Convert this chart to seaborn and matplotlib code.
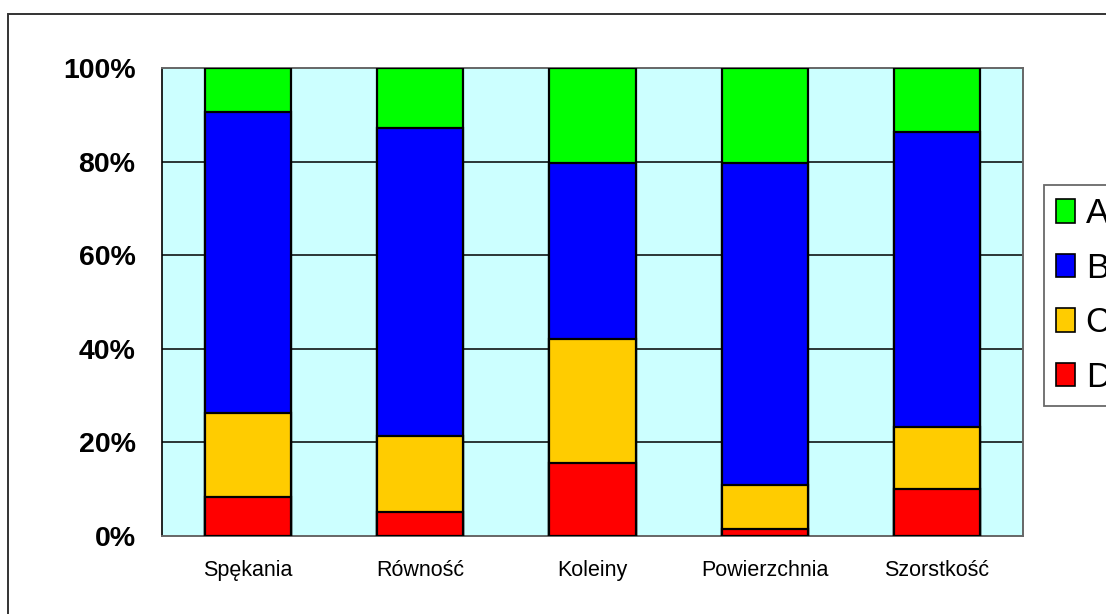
import matplotlib
matplotlib.use("Agg")
import matplotlib.pyplot as plt
from matplotlib.patches import Patch, Rectangle
from matplotlib.ticker import FixedLocator, FuncFormatter
import numpy as np
import pandas as pd
import seaborn as sns

# Shares (%) of each rating class per pavement parameter
categories = ["Spękania", "Równość", "Koleiny", "Powierzchnia", "Szorstkość"]
share_D = [8.3, 5.1, 15.7, 1.6, 10.0]
share_C = [18.0, 16.3, 26.5, 9.4, 13.3]
share_B = [64.4, 65.8, 37.6, 68.8, 63.1]
share_A = [9.3, 12.8, 20.2, 20.2, 13.6]
series_names = ["A", "B", "C", "D"]
y_ticks = [0, 20, 40, 60, 80, 100]

colors = {"A": "#00FF00", "B": "#0000FF", "C": "#FFCC00", "D": "#FF0000"}

sns.set_style("white")
plt.rcParams["font.family"] = ["Liberation Sans", "DejaVu Sans"]
plt.rcParams["text.color"] = "black"
plt.rcParams["xtick.labelcolor"] = "black"
plt.rcParams["ytick.labelcolor"] = "black"

fig = plt.figure(figsize=(11.06, 6.14), dpi=100)
ax = fig.add_axes([162 / 1106, 1 - 536 / 614, (1023 - 162) / 1106, (536 - 68) / 614])
ax.set_facecolor("#CCFFFF")

df = pd.DataFrame({"cat": categories, "D": share_D, "C": share_C,
                   "B": share_B, "A": share_A})
# cumulative tops, stacked bottom-up D, C, B, A
df["cum_D"] = df["D"]
df["cum_C"] = df["cum_D"] + df["C"]
df["cum_B"] = df["cum_C"] + df["B"]
df["cum_A"] = df["cum_B"] + df["A"]

# draw tallest layer first so lower segments sit on top of it
for name in ["A", "B", "C", "D"]:
    sns.barplot(data=df, x="cat", y=f"cum_{name}", color=colors[name],
                saturation=1, width=0.5, edgecolor="black", linewidth=1.6,
                ax=ax, zorder=3)

ax.set_xlim(-0.5, len(categories) - 0.5)
ax.set_ylim(0, 100)
ax.set_xlabel("")
ax.set_ylabel("")

# y axis
ax.yaxis.set_major_locator(FixedLocator(y_ticks))
ax.yaxis.set_major_formatter(FuncFormatter(lambda v, p: f"{int(v)}%"))
ax.tick_params(axis="y", which="major", direction="out", length=7, width=1,
               color="#555555", pad=12, labelsize=20.5, labelcolor="black")
for lab in ax.get_yticklabels():
    lab.set_fontweight("bold")
for v in y_ticks[1:-1]:
    ax.axhline(v, color="black", lw=1.1, zorder=1)

# x axis: tick marks on category boundaries, labels at centres
ax.xaxis.set_major_locator(FixedLocator(np.arange(-0.5, len(categories), 1.0)))
ax.xaxis.set_major_formatter(FuncFormatter(lambda v, p: ""))
ax.set_xticks(np.arange(len(categories)), labels=categories, minor=True)
ax.tick_params(axis="x", which="major", direction="out", length=7, width=1,
               color="black")
ax.tick_params(axis="x", which="minor", length=0, pad=17, labelsize=15.5,
               labelcolor="black")

ax.spines["left"].set_color("black")
ax.spines["left"].set_linewidth(1.2)
for side in ["top", "bottom", "right"]:
    ax.spines[side].set_color("#666666")
    ax.spines[side].set_linewidth(1.4)

# legend
handles = [Patch(facecolor=colors[n], edgecolor="black", linewidth=1.2, label=n)
           for n in series_names]
leg = fig.legend(handles=handles, loc="upper left",
                 bbox_to_anchor=(1044 / 1106, 1 - 185 / 614),
                 bbox_transform=fig.transFigure, fontsize=25,
                 frameon=True, fancybox=False, borderaxespad=0,
                 handlelength=0.55, handleheight=0.66, handletextpad=0.3,
                 labelspacing=0.62, borderpad=0.35)
leg.get_frame().set_edgecolor("#444444")
leg.get_frame().set_linewidth(1.3)
for t in leg.get_texts():
    t.set_color("black")

# outer chart frame
fig.patches.append(Rectangle((8 / 1106, -0.2), 1.2, 1.2 - 14 / 614,
                             transform=fig.transFigure, fill=False,
                             edgecolor="#333333", linewidth=1.4))

fig.savefig("out.png", dpi=100)
